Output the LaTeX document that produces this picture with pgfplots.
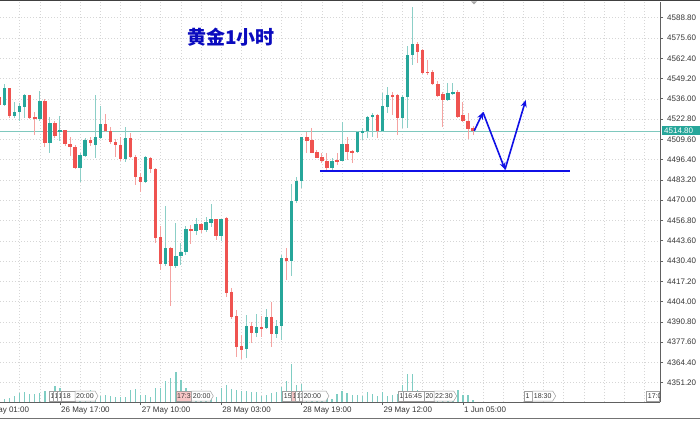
\documentclass[border=0pt]{standalone}
\usepackage{fontspec}
\setmainfont{Liberation Sans}
\newfontfamily\cjk{Noto Sans CJK SC}
\usepackage{pgfplots}
\usepackage{pgfplotstable}
\pgfplotsset{compat=1.18}
\usetikzlibrary{arrows.meta}
\definecolor{bullc}{HTML}{26A69A}
\definecolor{bearc}{HTML}{EF5350}
\definecolor{bullw}{HTML}{8CCFC7}
\definecolor{bearw}{HTML}{F5A3A1}
\definecolor{volc}{HTML}{7FCDC3}
\definecolor{pricec}{HTML}{7FC8BE}
\definecolor{gridc}{HTML}{D6D6D6}
\definecolor{axc}{HTML}{606060}
\definecolor{txtc}{HTML}{363636}
\definecolor{drawblue}{HTML}{1010E6}
\definecolor{titleblue}{HTML}{0A0ABE}
\definecolor{evpink}{HTML}{F7C6C6}

\pgfplotstableread{
j o h l c
1 4532.0 4545.5 4531.3 4542.9
3 4525.0 4534.1 4523.7 4527.2
4 4527.2 4533.3 4521.6 4531.3
5 4530.9 4539.2 4523.5 4538.3
8 4522.7 4541.1 4521.6 4534.6
10 4507.1 4524.0 4500.6 4520.5
12 4514.1 4525.0 4508.6 4515.7
16 4490.8 4500.7 4482.1 4499.4
17 4498.8 4510.3 4498.2 4509.2
19 4506.0 4538.5 4497.3 4511.4
20 4510.8 4531.3 4509.9 4519.6
25 4496.8 4517.9 4495.1 4510.3
29 4482.1 4498.8 4481.4 4497.9
33 4428.5 4466.4 4427.2 4438.7
35 4427.2 4455.4 4425.9 4433.9
36 4433.9 4442.0 4427.9 4436.5
37 4436.1 4453.2 4434.4 4451.1
39 4450.2 4458.3 4447.4 4454.5
41 4450.6 4458.9 4449.5 4455.6
42 4455.4 4467.6 4452.4 4457.6
44 4447.0 4458.0 4443.7 4457.6
49 4373.0 4395.3 4367.1 4388.4
51 4383.4 4396.0 4381.2 4387.3
53 4386.6 4399.0 4386.0 4393.8
55 4382.8 4392.1 4380.2 4388.2
56 4388.2 4434.4 4379.0 4432.2
58 4430.7 4480.6 4420.7 4469.5
59 4469.5 4484.9 4468.4 4482.7
60 4482.5 4511.4 4477.8 4511.0
66 4490.8 4497.3 4489.2 4495.5
68 4495.7 4520.7 4495.5 4506.6
71 4501.6 4515.1 4501.0 4514.2
72 4514.2 4516.8 4509.2 4515.1
73 4515.1 4524.8 4510.3 4524.0
74 4524.0 4526.6 4511.0 4525.5
76 4515.3 4539.6 4514.6 4531.3
77 4530.9 4543.5 4526.6 4538.5
80 4523.3 4538.5 4516.8 4537.0
81 4537.0 4570.4 4516.8 4564.5
82 4564.5 4595.6 4558.0 4571.5
89 4535.2 4546.1 4534.8 4539.6
90 4539.6 4546.5 4538.5 4540.6
}\bull

\pgfplotstableread{
j o h l c
0 4537.4 4539.2 4530.0 4532.0
2 4542.9 4543.2 4523.7 4525.0
6 4538.3 4538.8 4522.9 4523.5
7 4523.9 4527.2 4512.3 4522.7
9 4534.6 4535.9 4504.6 4507.1
11 4520.5 4521.8 4510.8 4511.8
13 4515.7 4516.0 4505.3 4506.6
14 4506.6 4511.0 4498.8 4504.9
15 4504.9 4506.0 4490.3 4490.8
18 4508.9 4511.0 4505.6 4507.1
21 4519.6 4525.9 4514.6 4515.3
22 4515.1 4517.7 4506.6 4508.1
23 4508.1 4509.9 4498.3 4506.0
24 4506.0 4511.0 4495.7 4496.6
26 4510.3 4514.0 4497.3 4497.9
27 4498.3 4499.4 4479.9 4485.3
28 4485.3 4487.5 4475.6 4482.1
30 4497.3 4498.3 4487.5 4490.3
31 4490.3 4491.0 4442.4 4445.6
32 4445.9 4453.2 4424.6 4428.5
34 4438.7 4439.6 4401.4 4427.2
38 4451.1 4453.9 4441.5 4450.0
40 4454.5 4455.2 4448.9 4450.6
43 4457.6 4458.0 4444.1 4447.0
45 4458.3 4459.3 4406.8 4409.8
46 4410.3 4413.1 4392.5 4394.2
47 4394.7 4398.6 4368.2 4374.7
48 4375.1 4382.3 4366.5 4372.5
50 4388.4 4391.0 4377.3 4383.4
52 4387.7 4394.7 4381.2 4386.4
54 4393.8 4404.0 4374.7 4382.8
57 4432.6 4438.7 4418.1 4430.7
61 4511.0 4514.6 4501.0 4508.8
62 4509.2 4516.8 4500.6 4501.0
63 4501.2 4502.7 4497.3 4497.7
64 4498.0 4500.6 4494.0 4495.3
65 4495.3 4500.6 4489.7 4490.8
67 4496.2 4501.0 4493.0 4495.1
69 4506.6 4511.4 4496.2 4501.6
70 4502.0 4502.7 4494.4 4501.0
75 4525.5 4526.1 4510.3 4515.3
78 4538.5 4540.6 4525.5 4537.4
79 4538.5 4539.2 4512.5 4523.3
83 4571.5 4573.2 4559.1 4566.7
84 4567.8 4568.2 4552.2 4553.0
85 4553.7 4561.3 4551.5 4552.6
86 4553.7 4554.8 4545.0 4545.7
87 4545.7 4547.6 4537.4 4538.0
88 4539.2 4540.6 4517.9 4535.2
91 4540.6 4541.7 4523.3 4524.4
92 4525.5 4534.1 4521.1 4521.8
93 4521.8 4526.6 4509.7 4516.2
94 4516.7 4518.3 4512.5 4514.8
}\bear

\pgfplotstableread{
j v
1 3
2 4
3 6
4 9
5 10
6 8
7 8
8 9
9 11
10 10
11 16
12 14
13 9
14 8
15 8
16 9
17 10
18 12
19 9
20 6
21 7
22 6
23 5
24 5
25 5
26 12
27 13
28 7
29 7
30 5
31 14
32 14
33 21
34 24
35 30
36 22
37 14
38 10
39 8
40 7
41 6
42 8
43 5
44 14
45 17
46 13
47 12
48 11
49 11
50 10
51 10
52 6
53 7
54 9
55 10
56 15
57 21
58 38
59 17
60 18
61 10
62 9
63 7
64 10
65 7
66 3
67 8
68 11
69 9
70 7
71 7
72 6
73 10
74 8
75 6
76 10
77 6
78 7
79 8
80 17
81 28
82 28
83 12
84 10
85 8
86 8
87 8
88 10
89 8
90 7
91 12
92 7
93 7
94 2
}\vol

\newcommand{\evbox}[4]{%
  \filldraw[draw=gray!75, fill=#4, line width=0.5pt] (#1pt,19pt) rectangle (#2pt,29pt);
  \begin{scope}
    \clip (#1pt,19pt) rectangle (#2pt,29pt);
    \node[anchor=west, inner sep=0pt, text=txtc, font=\fontsize{7}{8}\selectfont] at ({#1pt+1pt},24pt) {#3};
  \end{scope}}
\newcommand{\evboxp}[3]{%
  \filldraw[draw=gray!75, fill=white, line width=0.5pt] (#1pt,19pt) -- ({#2pt-3pt},19pt) -- (#2pt,24pt) -- ({#2pt-3pt},29pt) -- (#1pt,29pt) -- cycle;
  \node[anchor=west, inner sep=0pt, text=txtc, font=\fontsize{7}{8}\selectfont] at ({#1pt+1pt},24pt) {#3};}

\begin{document}
\begin{tikzpicture}
\useasboundingbox (0pt,0pt) rectangle (700pt,420pt);
\fill[white] (0pt,0pt) rectangle (700pt,420pt);
\begin{axis}[
  at={(0pt,18pt)}, anchor=south west,
  scale only axis, width=660pt, height=400pt,
  xmin=0.09, xmax=131.11, ymin=4338.70, ymax=4599.02,
  axis x line*=bottom, axis y line*=right,
  axis line style={axc, line width=0.8pt},
  tick style={axc, line width=0.7pt},
  tick align=outside, major tick length=3pt, minor tick length=0pt,
  xtick={12,28,44,60,76,92}, xticklabels={},
  minor xtick={0,4,...,132},
  ytick={4351.2,4364.4,4377.6,4390.8,4404.0,4417.2,4430.4,4443.6,4456.8,4470.0,4483.2,4496.4,4509.6,4522.8,4536.0,4549.2,4562.4,4575.6,4588.8},
  yticklabels={4351.20,4364.40,4377.60,4390.80,4404.00,4417.20,4430.40,4443.60,4456.80,4470.00,4483.20,4496.40,4509.60,4522.80,4536.00,4549.20,4562.40,4575.60,4588.80},
  yticklabel style={anchor=west, inner sep=0pt, xshift=4pt, text=txtc, font=\fontsize{8}{9}\selectfont},
  xmajorgrids, xminorgrids, ymajorgrids,
  major grid style={gridc, dash pattern=on 1pt off 2pt, line width=0.6pt},
  minor grid style={gridc, dash pattern=on 1pt off 2pt, line width=0.6pt},
  clip=true,
]
% current price line
\addplot[pricec, line width=0.9pt, mark=none] coordinates {(0.09,4514.8) (131.11,4514.8)};
% wicks
\addplot[draw=none, mark=none, forget plot, error bars/.cd, y dir=both, y explicit, error mark=none,
  error bar style={draw=bullw, line width=1pt}]
  table[x=j, y expr={(\thisrow{h}+\thisrow{l})/2}, y error expr={(\thisrow{h}-\thisrow{l})/2}] {\bull};
\addplot[draw=none, mark=none, forget plot, error bars/.cd, y dir=both, y explicit, error mark=none,
  error bar style={draw=bearw, line width=1pt}]
  table[x=j, y expr={(\thisrow{h}+\thisrow{l})/2}, y error expr={(\thisrow{h}-\thisrow{l})/2}] {\bear};
% bodies
\addplot[draw=none, mark=none, forget plot, error bars/.cd, y dir=both, y explicit, error mark=none,
  error bar style={draw=bullc, line width=3.4pt}]
  table[x=j, y expr={(\thisrow{o}+\thisrow{c})/2}, y error expr={abs(\thisrow{c}-\thisrow{o})/2}] {\bull};
\addplot[draw=none, mark=none, forget plot, error bars/.cd, y dir=both, y explicit, error mark=none,
  error bar style={draw=bearc, line width=3.4pt}]
  table[x=j, y expr={(\thisrow{o}+\thisrow{c})/2}, y error expr={abs(\thisrow{c}-\thisrow{o})/2}] {\bear};
% drawn analysis lines
\addplot[drawblue, line width=1.8pt, mark=none] coordinates {(63.6,4488.8) (113.2,4488.8)};
\addplot[drawblue, line width=1.6pt, mark=none, -{Stealth[length=7pt,width=6pt]}] coordinates {(94.24,4515.2) (95.97,4527.2)};
\addplot[drawblue, line width=1.6pt, mark=none, -{Stealth[length=7pt,width=6pt]}] coordinates {(95.97,4527.2) (100.34,4490.0)};
\addplot[drawblue, line width=1.6pt, mark=none, -{Stealth[length=7pt,width=6pt]}] coordinates {(100.34,4490.0) (104.45,4535.2)};
\end{axis}
% volume
\begin{axis}[
  at={(0pt,18pt)}, anchor=south west,
  scale only axis, width=660pt, height=400pt,
  xmin=0.09, xmax=131.11, ymin=0, ymax=400,
  hide axis, clip=true,
]
\addplot[ycomb, volc, line width=1.3pt, mark=none] table[x=j, y=v] {\vol};
\end{axis}
% date labels
\foreach \px/\lab in {-20.6/26 May 01:00, 60/26 May 17:00, 140.6/27 May 10:00, 221.2/28 May 03:00, 301.8/28 May 19:00, 382.4/29 May 12:00, 463.0/1 Jun 05:00}{
  \node[anchor=north west, inner sep=0pt, text=txtc, font=\fontsize{8}{9}\selectfont] at ({\px pt+1pt},13.5pt) {\lab};
}
% event labels
\evbox{49.3}{53.3}{1}{white}
\evbox{53.3}{57.3}{1}{white}
\evbox{57.3}{61.7}{1}{white}
\evbox{61.7}{75}{18}{white}
\evboxp{75}{98}{20:00}
\evbox{176}{191.7}{17:3}{evpink}
\evboxp{191.7}{213.3}{20:00}
\evbox{282.7}{291.7}{15}{white}
\evbox{291.7}{295.7}{1}{evpink}
\evbox{295.7}{299}{1}{white}
\evbox{299}{302.3}{1}{white}
\evboxp{302.3}{329}{20:00}
\evbox{398.3}{403.3}{1}{white}
\evbox{403.3}{424.3}{16:45}{white}
\evbox{424.3}{434}{20}{white}
\evboxp{434}{456.7}{22:30}
\evbox{524.3}{532.7}{1}{white}
\evboxp{532.7}{555.7}{18:30}
\evbox{646.7}{659.6}{17:0}{white}
% current price tag
\fill[bullc] (662pt,284.5pt) rectangle (702pt,294pt);
\node[anchor=west, inner sep=0pt, text=white, font=\fontsize{8}{9}\selectfont] at (664pt,289.3pt) {4514.80};
% title
\node[text=titleblue, font=\cjk\bfseries\fontsize{19}{20}\selectfont] at (231pt,383pt) {黄金1小时};
% window borders
\fill[black!75] (0pt,418.8pt) rectangle (700pt,420pt);
\fill[black!55] (0pt,0.8pt) rectangle (700pt,2.4pt);
\fill[gray!70] (471pt,418.6pt) -- (477pt,418.6pt) -- (474pt,415.6pt) -- cycle;
\end{tikzpicture}
\end{document}
